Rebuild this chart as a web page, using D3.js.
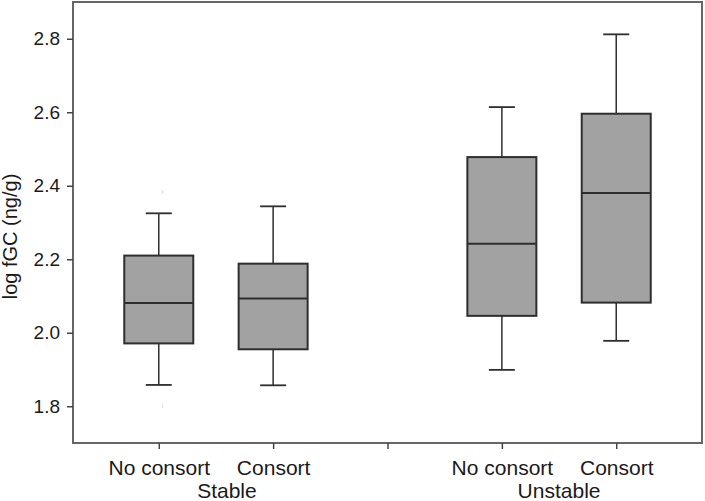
<!DOCTYPE html>
<html>
<head>
<meta charset="utf-8">
<script src="https://cdn.jsdelivr.net/npm/d3@7"></script>
<style>
  html, body { margin: 0; padding: 0; background: #fff; }
  svg { display: block; }
  text { font-family: Arial, "Liberation Sans", Helvetica, sans-serif; fill: #1a1a1a; }
</style>
</head>
<body>
<svg id="chart" width="705" height="501"></svg>
<script>
// ---- data ----
const slots = ["Stable|No consort", "Stable|Consort", "gap", "Unstable|No consort", "Unstable|Consort"];
const subLabels = ["No consort", "Consort", "", "No consort", "Consort"];
const groups = ["Stable", "Unstable"];
const groupSlots = [["Stable|No consort", "Stable|Consort"], ["Unstable|No consort", "Unstable|Consort"]];
const boxKeys = ["Stable|No consort", "Stable|Consort", "Unstable|No consort", "Unstable|Consort"];
const whiskerLow  = [1.858, 1.857, 1.899, 1.978];
const q1          = [1.971, 1.955, 2.046, 2.082];
const median      = [2.081, 2.093, 2.242, 2.380];
const q3          = [2.210, 2.188, 2.478, 2.596];
const whiskerHigh = [2.325, 2.344, 2.614, 2.812];
const faintKeys   = ["Stable|No consort", "Stable|No consort"];
const faintVals   = [2.383, 1.800];
const yTicks = [1.8, 2.0, 2.2, 2.4, 2.6, 2.8];
const yLabel = "log fGC (ng/g)";

// ---- layout ----
const svg = d3.select("#chart");
const L = 73, R = 702, T = 2, B = 443;

const x = d3.scalePoint().domain(slots).range([L, R]).padding(0.75);
const y = d3.scaleLinear().domain([1.7, 2.9]).range([B, T]);

const boxHalf = 34.5, capHalf = 13;
const dark = "#2e2e2e";

// faint outlier marks
svg.append("g").selectAll("line").data(faintKeys).join("line")
  .attr("x1", (d) => x(d) + 4).attr("x2", (d) => x(d) + 4)
  .attr("y1", (d, i) => y(faintVals[i]) - 2).attr("y2", (d, i) => y(faintVals[i]) + 2)
  .attr("stroke", "#d8d8d8").attr("stroke-width", 1);

const bx = svg.append("g").selectAll("g").data(boxKeys).join("g");
// whiskers
bx.append("line")
  .attr("x1", (d) => x(d)).attr("x2", (d) => x(d))
  .attr("y1", (d, i) => y(whiskerHigh[i])).attr("y2", (d, i) => y(q3[i]))
  .attr("stroke", dark).attr("stroke-width", 1.5);
bx.append("line")
  .attr("x1", (d) => x(d)).attr("x2", (d) => x(d))
  .attr("y1", (d, i) => y(q1[i])).attr("y2", (d, i) => y(whiskerLow[i]))
  .attr("stroke", dark).attr("stroke-width", 1.5);
// caps
bx.append("line")
  .attr("x1", (d) => x(d) - capHalf).attr("x2", (d) => x(d) + capHalf)
  .attr("y1", (d, i) => y(whiskerHigh[i])).attr("y2", (d, i) => y(whiskerHigh[i]))
  .attr("stroke", dark).attr("stroke-width", 1.8);
bx.append("line")
  .attr("x1", (d) => x(d) - capHalf).attr("x2", (d) => x(d) + capHalf)
  .attr("y1", (d, i) => y(whiskerLow[i])).attr("y2", (d, i) => y(whiskerLow[i]))
  .attr("stroke", dark).attr("stroke-width", 1.8);
// box
bx.append("rect")
  .attr("x", (d) => x(d) - boxHalf).attr("width", boxHalf * 2)
  .attr("y", (d, i) => y(q3[i])).attr("height", (d, i) => y(q1[i]) - y(q3[i]))
  .attr("fill", "#a2a2a2").attr("stroke", dark).attr("stroke-width", 2);
// median
bx.append("line")
  .attr("x1", (d) => x(d) - boxHalf).attr("x2", (d) => x(d) + boxHalf)
  .attr("y1", (d, i) => y(median[i])).attr("y2", (d, i) => y(median[i]))
  .attr("stroke", dark).attr("stroke-width", 2);

// frame
svg.append("rect").attr("x", L).attr("y", T).attr("width", R - L).attr("height", B - T)
  .attr("fill", "none").attr("stroke", "#666").attr("stroke-width", 2);

// y axis
const yAxis = svg.append("g").attr("transform", `translate(${L},0)`)
  .call(d3.axisLeft(y).tickValues(yTicks).tickFormat(d3.format(".1f")).tickSize(6).tickPadding(7));
yAxis.select(".domain").remove();
yAxis.selectAll(".tick line").attr("stroke", "#444").attr("stroke-width", 1.5);
yAxis.selectAll(".tick text").attr("font-size", 19).attr("fill", "#1a1a1a")
  .attr("font-family", "Arial, 'Liberation Sans', sans-serif");

// x axis
const xAxis = svg.append("g").attr("transform", `translate(0,${B})`)
  .call(d3.axisBottom(x).tickFormat((d, i) => subLabels[i]).tickSize(6).tickPadding(11));
xAxis.select(".domain").remove();
xAxis.selectAll(".tick line").attr("stroke", "#444").attr("stroke-width", 1.5);
xAxis.selectAll(".tick text").attr("font-size", 21).attr("fill", "#1a1a1a")
  .attr("font-family", "Arial, 'Liberation Sans', sans-serif");

// group labels
const groupDx = [11, 0];
svg.append("g").selectAll("text").data(groups).join("text")
  .attr("x", (d, i) => d3.mean(groupSlots[i], (s) => x(s)) + groupDx[i])
  .attr("y", 498)
  .attr("text-anchor", "middle").attr("font-size", 21)
  .text((d) => d);

// y label
svg.append("text")
  .attr("transform", "translate(17,236.5) rotate(-90)")
  .attr("text-anchor", "middle").attr("font-size", 20)
  .text(yLabel);
</script>
</body>
</html>
